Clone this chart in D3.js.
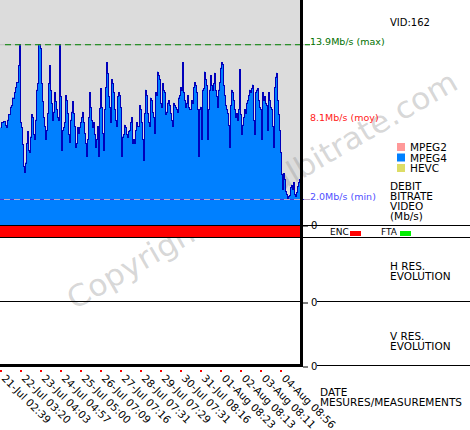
<!DOCTYPE html>
<html>
<head>
<meta charset="utf-8">
<script src="https://cdn.jsdelivr.net/npm/d3@7.9.0/dist/d3.min.js"></script>
<style>
body { margin: 0; background: #fff; }
svg { display: block; font-family: "DejaVu Sans", sans-serif; }
</style>
</head>
<body>
<svg id="chart" width="470" height="430"></svg>
<script>
// video bitrate per measurement (Mb/s)
const bitrate = [
  7.5,7.9,7.9,8.0,8.0,7.7,7.5,8.1,8.5,8.5,9.1,9.2,9.8,9.8,10.2,10.6,11.0,11.0,12.3,13.9,
  7.9,7.5,6.2,4.5,4.1,4.8,6.3,7.2,5.8,5.6,6.8,8.5,8.3,7.0,6.6,8.1,10.4,10.9,13.9,13.9,
  13.6,10.9,9.5,8.3,7.6,6.6,7.3,8.6,10.9,12.3,10.4,9.4,8.1,8.7,10.2,9.5,8.9,8.3,8.1,13.9,
  9.9,5.8,7.3,7.5,7.9,10.0,9.6,8.6,7.0,6.4,8.1,8.7,9.5,8.6,7.6,6.0,6.3,7.5,7.1,7.5,
  7.9,8.3,8.7,7.9,7.1,6.3,5.3,6.6,8.3,10.2,9.1,8.1,7.5,7.9,7.0,6.0,6.6,7.6,5.3,9.0,
  10.5,9.1,7.1,5.8,8.9,10.6,12.5,11.7,9.9,9.1,7.9,11.2,10.9,10.2,8.9,8.1,7.6,9.9,10.2,10.0,
  9.1,5.3,6.8,7.0,7.7,7.5,7.0,6.8,7.2,7.3,7.9,8.3,6.3,6.6,6.3,7.3,7.9,7.6,7.6,9.2,
  8.9,7.9,6.6,5.0,8.6,10.4,10.0,8.6,7.9,7.6,9.8,9.6,8.7,8.3,7.1,10.2,10.0,11.8,11.5,11.2,
  9.4,9.1,10.9,10.4,10.2,8.5,8.7,9.4,9.6,9.2,8.6,8.1,7.6,9.4,9.2,9.1,8.9,8.7,9.8,10.0,
  10.6,10.4,12.5,10.2,9.6,9.1,9.4,10.0,9.1,8.9,8.9,9.6,9.4,10.6,11.0,10.8,10.2,8.9,5.3,8.9,
  9.1,6.6,10.4,10.5,11.8,11.2,10.8,6.6,8.9,10.4,11.5,10.8,10.4,10.9,11.7,10.4,9.9,9.1,10.4,11.0,
  12.1,12.5,12.4,10.8,10.0,9.2,8.9,8.6,7.7,6.0,9.2,10.4,10.2,9.6,8.9,8.3,8.6,8.1,8.9,12.0,
  8.5,7.0,7.7,8.3,8.9,8.6,9.4,9.6,10.0,10.4,10.2,10.5,10.8,8.1,7.0,10.2,10.4,10.5,9.6,9.1,
  8.9,6.6,10.2,9.6,9.9,9.4,9.2,7.3,10.2,9.6,9.1,8.9,7.6,6.0,10.6,11.4,11.7,9.6,8.5,7.3,
  5.6,3.9,2.8,4.0,3.5,2.6,2.4,2.0,2.2,2.3,2.9,3.1,2.8,3.3,2.4,2.2,2.5,3.0,3.3,3.5
];

// date ticks: measurement index + label
const labelIdx = [0, 20, 40, 60, 80, 100, 120, 140, 160, 180, 200, 220, 240, 260, 280];
const dateLabels = [
  '21-Jul 02:39', '22-Jul 03:20', '23-Jul 04:03', '24-Jul 04:57', '25-Jul 05:00',
  '26-Jul 07:09', '27-Jul 07:16', '28-Jul 07:31', '29-Jul 07:29', '30-Jul 07:31',
  '31-Jul 08:16', '01-Aug 08:23', '02-Aug 08:13', '03-Aug 08:11', '04-Aug 08:56'
];

const statValues = [13.9, 8.1, 2.0];
const statNames = ['max', 'moy', 'min'];
const codecs = ['MPEG2', 'MPEG4', 'HEVC'];
const flags = ['ENC', 'FTA'];
const vidLabel = 'VID:162';

const svg = d3.select('#chart');

const x = d3.scaleLinear().domain([0, 300]).range([0, 300]);
const y = d3.scaleLinear().domain([0, 17.3]).range([225, 0]);
const hRes = d3.scaleLinear().domain([0, 1]).range([302, 238]);
const vRes = d3.scaleLinear().domain([0, 1]).range([366, 302]);

// grey plot background
svg.append('rect')
    .attr('x', 0).attr('y', 0)
    .attr('width', 300).attr('height', 225)
    .attr('fill', '#dcdcdc');

// watermark
svg.append('text')
    .attr('transform', 'translate(262,190) rotate(-30)')
    .attr('text-anchor', 'middle')
    .attr('dy', '0.35em')
    .attr('font-size', 30)
    .attr('textLength', 445)
    .attr('lengthAdjust', 'spacingAndGlyphs')
    .attr('fill', '#999')
    .attr('fill-opacity', 0.4)
    .text('Copyright digitalbitrate.com');

// bitrate series (step columns + dark outline)
let pts = bitrate.map((v, i) => [i, v]);
pts.push([bitrate.length, bitrate[bitrate.length - 1]]);

const area = d3.area()
    .x((d) => x(d[0]))
    .y0(y(0))
    .y1((d) => y(d[1]))
    .curve(d3.curveStepAfter);

const line = d3.line()
    .x((d) => x(d[0]) + 0.5)
    .y((d) => y(d[1]) + 0.5)
    .curve(d3.curveStepAfter);

svg.append('path').attr('d', area(pts)).attr('fill', '#0080ff');
svg.append('path')
    .attr('d', line(pts))
    .attr('fill', 'none')
    .attr('stroke', '#0000bb')
    .attr('stroke-width', 1)
    .attr('shape-rendering', 'crispEdges');

// max / min reference lines
svg.append('line')
    .attr('x1', 0).attr('x2', 310)
    .attr('y1', y(statValues[0]) + 0.5).attr('y2', y(statValues[0]) + 0.5)
    .attr('stroke', '#c0c0c0');
svg.append('line')
    .attr('x1', 5).attr('x2', 310)
    .attr('y1', y(statValues[0]) + 0.5).attr('y2', y(statValues[0]) + 0.5)
    .attr('stroke', '#008000')
    .attr('stroke-dasharray', '6,4');
svg.append('line')
    .attr('x1', 0).attr('x2', 310)
    .attr('y1', y(statValues[2]) + 0.5).attr('y2', y(statValues[2]) + 0.5)
    .attr('stroke', '#c0a8c8');
svg.append('line')
    .attr('x1', 0).attr('x2', 310)
    .attr('y1', y(statValues[2]) + 0.5).attr('y2', y(statValues[2]) + 0.5)
    .attr('stroke', '#3838e8')
    .attr('stroke-dasharray', '4,6');

// stat labels
const statColors = ['#007000', '#ff2020', '#5050ff'];
statValues.forEach((v, i) => {
    svg.append('text')
        .attr('x', 310)
        .attr('y', y(v) + 1)
        .attr('font-size', 9.5)
        .attr('fill', statColors[i])
        .text(`${v.toFixed(1)}Mb/s (${statNames[i]})`);
});

// ENC bar
svg.append('rect')
    .attr('x', 0).attr('y', 226)
    .attr('width', 300).attr('height', 11)
    .attr('fill', '#ff0000');

// separators
const hLines = [
    [0, 470, 225.5],
    [0, 470, 237.5],
    [0, 300, 301.5]
];
hLines.forEach(([x1, x2, yy]) => {
    svg.append('line')
        .attr('x1', x1).attr('x2', x2)
        .attr('y1', yy).attr('y2', yy)
        .attr('stroke', '#000');
});
[225.5, 301.5, 365.5].forEach((yy) => {
    svg.append('line')
        .attr('x1', 317).attr('x2', 470)
        .attr('y1', yy).attr('y2', yy)
        .attr('stroke', '#000');
});

// zero ticks on the right
[y, hRes, vRes].forEach((scale) => {
    const g = svg.append('g')
        .attr('transform', 'translate(303,0.5)')
        .call(d3.axisRight(scale).tickValues([0]).tickSize(5).tickPadding(3).tickFormat(d3.format('d')));
    g.select('.domain').remove();
    g.attr('font-family', '"DejaVu Sans", sans-serif').attr('font-size', 10);
});

// frame
svg.append('rect').attr('x', 300).attr('y', 0).attr('width', 3).attr('height', 367).attr('fill', '#000');
svg.append('rect').attr('x', 0).attr('y', 364).attr('width', 303).attr('height', 3).attr('fill', '#000');

// date axis
const dateAxis = svg.append('g')
    .attr('transform', 'translate(0,374)')
    .call(d3.axisBottom(x).tickValues(labelIdx).tickSize(0).tickFormat((d, i) => dateLabels[i]));
dateAxis.select('.domain').remove();
dateAxis.attr('font-family', '"DejaVu Sans", sans-serif').attr('font-size', 10.5);
dateAxis.selectAll('text')
    .attr('transform', 'rotate(45)')
    .attr('x', 4)
    .attr('y', 0)
    .attr('dy', '0.3em')
    .style('text-anchor', 'start');

svg.selectAll('.tick-dot')
    .data(labelIdx)
    .join('rect')
    .attr('class', 'tick-dot')
    .attr('x', (d) => x(d))
    .attr('y', 370)
    .attr('width', 2).attr('height', 2)
    .attr('fill', '#ff0000');

// right side texts
svg.append('text').attr('x', 390).attr('y', 26).attr('font-size', 10).text(vidLabel);

const codecColors = ['#ff9999', '#0080ff', '#dddd66'];
codecs.forEach((c, i) => {
    svg.append('rect')
        .attr('x', 397).attr('y', 143 + i * 10.5)
        .attr('width', 8).attr('height', 8)
        .attr('fill', codecColors[i]);
    svg.append('text')
        .attr('x', 410).attr('y', 151 + i * 10.5)
        .attr('font-size', 10.5)
        .text(c);
});

function block(lines, x0, y0) {
    lines.forEach((t, i) => {
        svg.append('text')
            .attr('x', x0).attr('y', y0 + i * 10)
            .attr('font-size', 10.5)
            .text(t);
    });
}
block(['DEBIT', 'BITRATE', 'VIDEO', '(Mb/s)'], 390, 190);
block(['H RES.', 'EVOLUTION'], 390, 270);
block(['V RES.', 'EVOLUTION'], 390, 340);
block(['DATE', 'MESURES/MEASUREMENTS'], 320, 396);

// ENC / FTA flags
const flagColors = ['#ff0000', '#00ee00'];
flags.forEach((f, i) => {
    svg.append('text')
        .attr('x', 330 + i * 51).attr('y', 235)
        .attr('font-size', 9)
        .text(f);
    svg.append('rect')
        .attr('x', 350 + i * 50).attr('y', 231)
        .attr('width', 11).attr('height', 5)
        .attr('fill', flagColors[i]);
});
</script>
</body>
</html>
